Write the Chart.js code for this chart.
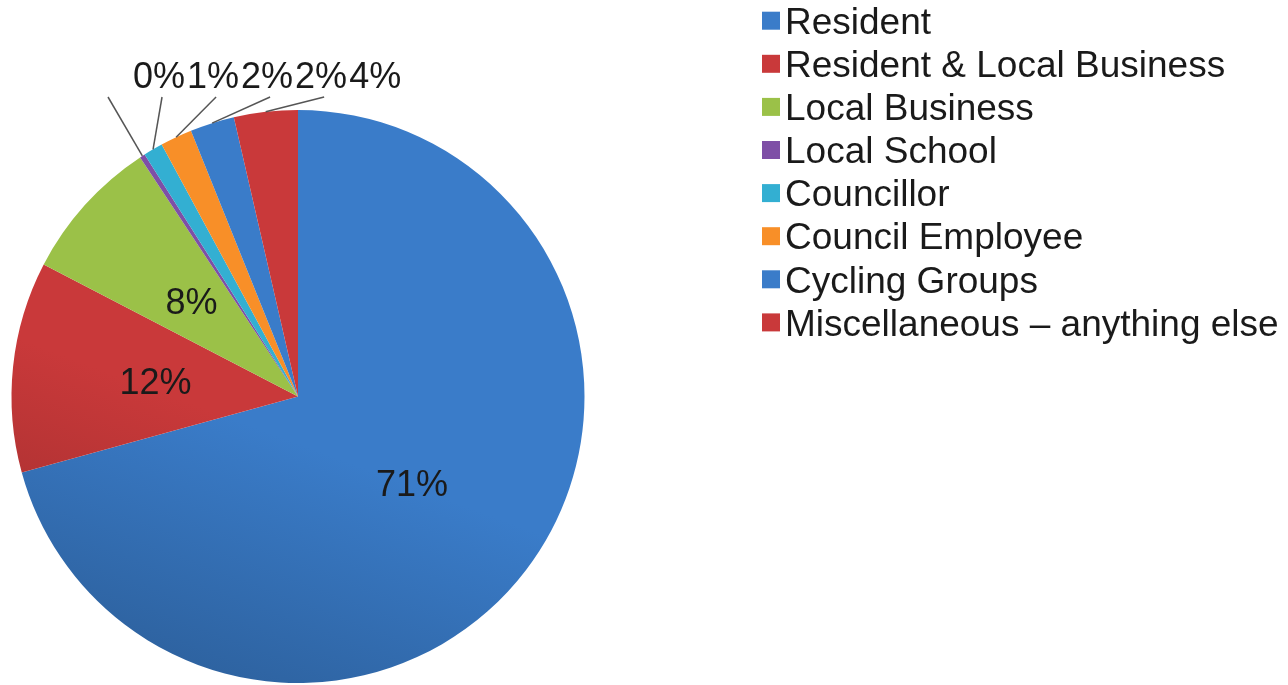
<!DOCTYPE html>
<html>
<head>
<meta charset="utf-8">
<script src="https://cdn.jsdelivr.net/npm/chart.js@4/dist/chart.umd.min.js"></script>
<style>
	html, body { margin: 0; padding: 0; background: #fff; }
	#wrap { width: 1288px; height: 685px; }
</style>
</head>
<body>
<div id="wrap"><canvas id="pie-chart" width="1288" height="685"></canvas></div>
<script>
	// values (percent of responses)
	var categories = ['Resident', 'Resident & Local Business', 'Local Business', 'Local School',
			'Councillor', 'Council Employee', 'Cycling Groups', 'Miscellaneous – anything else'],
			shares = [70.8, 11.9, 8.1, 0.3, 1.1, 1.8, 2.5, 3.6],
			sliceColors = ['#3a7cc9', '#c9393a', '#9bc148', '#7e4fa6', '#33afd2', '#f88f28', '#3a7cc9', '#c9393a'];

	var LABEL_FONT = '36px "Liberation Sans", Arial, sans-serif',
			LEGEND_FONT = '37px "Liberation Sans", Arial, sans-serif';

	function darker(hex, k) {
		var n = parseInt(hex.slice(1), 16);
		var r = Math.round(((n >> 16) & 255) * k),
				g = Math.round(((n >> 8) & 255) * k),
				b = Math.round((n & 255) * k);
		return 'rgb(' + r + ',' + g + ',' + b + ')';
	}

	// light shading: darker towards the bottom of the pie
	function shaded(context) {
		var chart = context.chart,
				area = chart.chartArea,
				base = sliceColors[context.dataIndex];
		if (!area) return base;
		var cx = (area.left + area.right) / 2,
				cy = (area.top + area.bottom) / 2,
				r = Math.min(area.right - area.left, area.bottom - area.top) / 2;
		var grad = chart.ctx.createLinearGradient(cx - 0.2 * r, cy + r, cx + 0.1 * r, cy + 0.2 * r);
		grad.addColorStop(0, darker(base, 0.8));
		grad.addColorStop(1, base);
		return grad;
	}

	// percentage labels, small slices get a row above the pie with leader lines
	var pieLabels = {
		id: 'pieLabels',
		afterDatasetsDraw: function(chart) {
			var ctx = chart.ctx,
					arcs = chart.getDatasetMeta(0).data,
					total = shares.reduce(function(a, b) { return a + b; }, 0),
					rowX = null;
			ctx.save();
			ctx.font = LABEL_FONT;
			ctx.fillStyle = '#1a1a1a';
			ctx.textBaseline = 'alphabetic';
			arcs.forEach(function(arc, i) {
				var p = arc.getProps(['x', 'y', 'startAngle', 'endAngle', 'outerRadius'], true),
						mid = (p.startAngle + p.endAngle) / 2,
						frac = shares[i] / total,
						text = Math.round(frac * 100) + '%';
				if (frac >= 0.05) {
					ctx.textAlign = 'center';
					ctx.fillText(text, p.x + Math.cos(mid) * p.outerRadius * 0.5,
							p.y + Math.sin(mid) * p.outerRadius * 0.5 + 13);
				} else {
					var top = p.y - p.outerRadius;
					if (rowX === null) rowX = p.x - 165;
					ctx.textAlign = 'left';
					ctx.fillText(text, rowX, top - 22);
					ctx.beginPath();
					ctx.moveTo(rowX - 25, top - 13);
					ctx.lineTo(p.x + Math.cos(mid) * p.outerRadius, p.y + Math.sin(mid) * p.outerRadius);
					ctx.strokeStyle = '#555';
					ctx.lineWidth = 1.5;
					ctx.stroke();
					rowX += ctx.measureText(text).width + 2;
				}
			});
			ctx.restore();
		}
	};

	// legend on the right, drawn by hand to get the tight box/text gap
	var sideLegend = {
		id: 'sideLegend',
		afterDraw: function(chart) {
			var ctx = chart.ctx;
			ctx.save();
			ctx.font = LEGEND_FONT;
			ctx.textAlign = 'left';
			ctx.textBaseline = 'alphabetic';
			categories.forEach(function(name, i) {
				var y = 20.7 + i * 43.1;
				ctx.fillStyle = sliceColors[i];
				ctx.fillRect(762, y - 9, 18, 18);
				ctx.fillStyle = '#1a1a1a';
				ctx.fillText(name, 785, y + 13.2);
			});
			ctx.restore();
		}
	};

	var ctx = document.getElementById('pie-chart').getContext('2d'),
			pieChart = new Chart(ctx, {
				type: 'pie',
				data: {
					labels: categories,
					datasets: [{
						data: shares,
						backgroundColor: shaded,
						borderWidth: 0,
						hoverBorderWidth: 0,
						hoverOffset: 0
					}]
				},
				options: {
					responsive: false,
					animation: false,
					layout: { padding: { left: 11, top: 110, right: 703, bottom: 2 } },
					plugins: {
						legend: { display: false },
						tooltip: { enabled: false }
					}
				},
				plugins: [pieLabels, sideLegend]
			});
</script>
</body>
</html>
